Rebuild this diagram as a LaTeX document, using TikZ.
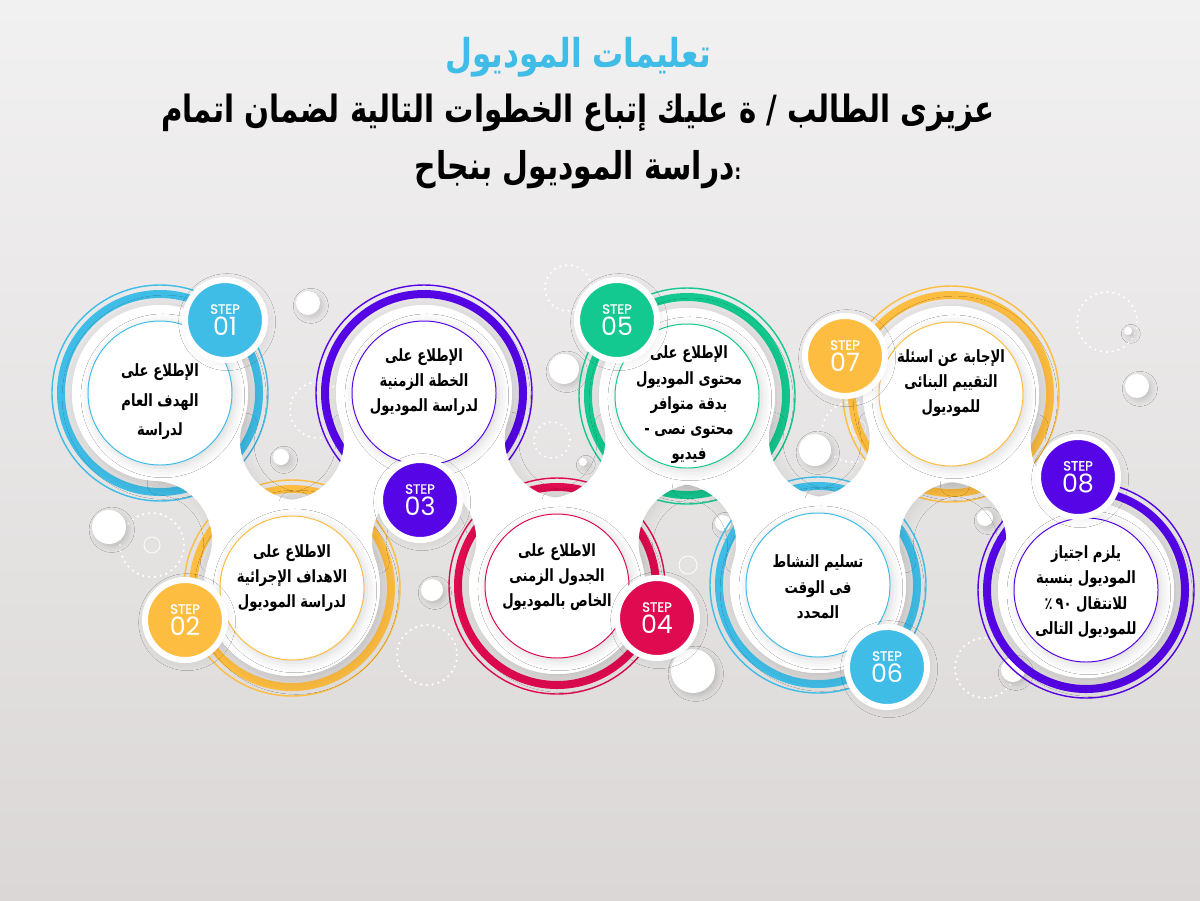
\documentclass[tikz,border=0pt]{standalone}
\usepackage{fontspec}
\usetikzlibrary{calc,shadows.blur}
\TeXXeTstate=1
\newfontfamily\arabicfont[Script=Arabic, FakeStretch=0.78]{DejaVu Sans}
\newfontfamily\stepfont{Poppins}
\newfontfamily\stepbold[FakeBold=1.5]{Poppins}
\newcommand{\ar}[1]{\beginR #1\endR}

\definecolor{stepblue}{HTML}{3FBDE6}
\definecolor{stepyellow}{HTML}{FDBD40}
\definecolor{steppurple}{HTML}{5505E6}
\definecolor{stepred}{HTML}{DF0A4F}
\definecolor{stepgreen}{HTML}{14C98F}
\definecolor{bgtop}{HTML}{F2F1F1}
\definecolor{bgbottom}{HTML}{DBD7D7}

\tikzset{
  ringthick/.style={draw=#1, line width=5.7pt},
  ringthin/.style={draw=#1, line width=1pt},
  bigdisc/.style={fill=white, blur shadow={shadow xshift=3pt, shadow yshift=-3pt, shadow blur radius=10pt, shadow opacity=14}},
  bridgefill/.style={fill=white, blur shadow={shadow xshift=2pt, shadow yshift=-2pt, shadow blur radius=8pt, shadow opacity=8}},
  innerdisc/.style={fill=white, draw=#1, line width=0.7pt, blur shadow={shadow xshift=2pt, shadow yshift=-2pt, shadow blur radius=7pt, shadow opacity=16}},
  stepbadge/.style={circle, fill=#1, draw=white, line width=4.3pt, minimum size=2cm, inner sep=0pt, text=white, align=center,
    font=\stepfont\fontsize{18}{15.6}\selectfont, blur shadow={shadow xshift=1.5pt, shadow yshift=-1.5pt, shadow blur radius=6pt, shadow opacity=10}},
  steptext/.style={align=center, font=\arabicfont\bfseries\fontsize{12}{18}\selectfont},
  whitedot/.style={fill=white, blur shadow={shadow xshift=2pt, shadow yshift=-2pt, shadow blur radius=4pt, shadow opacity=16}},
  dotring/.style={draw=white, line width=1.7pt, dash pattern=on 0pt off 4.2pt, line cap=round},
  faintring/.style={draw=white, line width=0.7pt, opacity=0.8}
}

\newcommand{\bridge}[2]{%
  \fill[bridgefill] let \p1=($(#2)-(#1)$), \n1={veclen(\x1,\y1)}, \n2={atan2(\y1,\x1)}, \n3={acos(\n1/2/104.69)} in
    ($(#1)+(\n2+\n3:2.2cm)$) arc[start angle=\n2+180+\n3, end angle=\n2+360-\n3, radius=1.48cm]
    -- ($(#2)+(\n2+180+\n3:2.2cm)$) arc[start angle=\n2+\n3, end angle=\n2+180-\n3, radius=1.48cm] -- cycle;}
\newcommand{\steplabel}[1]{{\stepbold\fontsize{9.5}{10}\selectfont STEP}\\#1}

\begin{document}
\begin{tikzpicture}[x=0.025cm, y=-0.025cm]
\useasboundingbox (0,0) rectangle (1200,900);
\shade[top color=bgtop, bottom color=bgbottom] (0,0) rectangle (1200,900);

\coordinate (c1) at (160,393);
\coordinate (c2) at (292,588);
\coordinate (c3) at (424,393);
\coordinate (c4) at (557,586);
\coordinate (c5) at (687,396);
\coordinate (c6) at (818,585);
\coordinate (c7) at (951,394);
\coordinate (c8) at (1086,590);

\draw[dotring] (152,545) circle (32);
\draw[faintring] (152,545) circle (8);
\draw[dotring] (568,288) circle (23);
\draw[dotring] (552,440) circle (18);
\draw[dotring] (427,655) circle (30);
\draw[dotring] (318,410) circle (28);
\draw[dotring] (1107,322) circle (30);
\draw[dotring] (852,432) circle (30);
\draw[faintring] (858,428) circle (8);
\draw[dotring] (985,668) circle (30);
\draw[faintring] (688,565) circle (9);

\fill[whitedot] (308,303) circle (12);
\fill[whitedot] (109,527) circle (17);
\fill[whitedot] (281,457) circle (8);
\fill[whitedot] (432,590) circle (11);
\fill[whitedot] (564,369) circle (15);
\fill[whitedot] (583,462) circle (4);
\fill[whitedot] (693,671) circle (22);
\fill[whitedot] (815,450) circle (16);
\fill[whitedot] (985,518) circle (8);
\fill[whitedot] (723,523) circle (8);
\fill[whitedot] (1137,386) circle (12);
\fill[whitedot] (1128,331) circle (4);
\fill[whitedot] (1013,670) circle (12);

\draw[ringthick=stepblue] (c1) circle (99);
\draw[ringthin=stepblue] (c1) circle (108);
\draw[ringthick=stepyellow] (c2) circle (99);
\draw[ringthin=stepyellow] (c2) circle (108);
\draw[ringthick=steppurple] (c3) circle (99);
\draw[ringthin=steppurple] (c3) circle (108);
\draw[ringthick=stepred] (c4) circle (99);
\draw[ringthin=stepred] (c4) circle (108);
\draw[ringthick=stepgreen] (c5) circle (99);
\draw[ringthin=stepgreen] (c5) circle (108);
\draw[ringthick=stepblue] (c6) circle (99);
\draw[ringthin=stepblue] (c6) circle (108);
\draw[ringthick=stepyellow] (c7) circle (99);
\draw[ringthin=stepyellow] (c7) circle (108);
\draw[ringthick=steppurple] (c8) circle (99);
\draw[ringthin=steppurple] (c8) circle (108);

\fill[bigdisc] (c1) circle (88);
\fill[bigdisc] (c2) circle (88);
\fill[bigdisc] (c3) circle (88);
\fill[bigdisc] (c4) circle (88);
\fill[bigdisc] (c5) circle (88);
\fill[bigdisc] (c6) circle (88);
\fill[bigdisc] (c7) circle (88);
\fill[bigdisc] (c8) circle (88);

\bridge{c1}{c2}
\bridge{c2}{c3}
\bridge{c3}{c4}
\bridge{c4}{c5}
\bridge{c5}{c6}
\bridge{c6}{c7}
\bridge{c7}{c8}

\fill[white] (c1) circle (88) (c2) circle (88) (c3) circle (88) (c4) circle (88)
  (c5) circle (88) (c6) circle (88) (c7) circle (88) (c8) circle (88);

\draw[innerdisc=stepblue] (c1) circle (72);
\draw[innerdisc=stepyellow] (c2) circle (72);
\draw[innerdisc=steppurple] (c3) circle (72);
\draw[innerdisc=stepred] (c4) circle (72);
\draw[innerdisc=stepgreen] (c5) circle (72);
\draw[innerdisc=stepblue] (c6) circle (72);
\draw[innerdisc=stepyellow] (c7) circle (72);
\draw[innerdisc=steppurple] (c8) circle (72);

\node[stepbadge=stepblue] (b1) at (225,320) {\steplabel{01}};
\node[stepbadge=stepyellow] (b2) at (185,620) {\steplabel{02}};
\node[stepbadge=steppurple] (b3) at (420,500) {\steplabel{03}};
\node[stepbadge=stepred] (b4) at (657,618) {\steplabel{04}};
\node[stepbadge=stepgreen] (b5) at (617,320) {\steplabel{05}};
\node[stepbadge=stepblue] (b6) at (887,667) {\steplabel{06}};
\node[stepbadge=stepyellow] (b7) at (845,356) {\steplabel{07}};
\node[stepbadge=steppurple] (b8) at (1078,477) {\steplabel{08}};

\node[steptext, font=\arabicfont\bfseries\fontsize{12}{21}\selectfont] (t1) at (160,402) {\ar{الإطلاع على}\\\ar{الهدف العام}\\\ar{لدراسة}};
\node[steptext] (t2) at (292,578) {\ar{الاطلاع على}\\\ar{الاهداف الإجرائية}\\\ar{لدراسة الموديول}};
\node[steptext] (t3) at (424,382) {\ar{الإطلاع على}\\\ar{الخطة الزمنية}\\\ar{لدراسة الموديول}};
\node[steptext] (t4) at (557,577) {\ar{الاطلاع على}\\\ar{الجدول الزمنى}\\\ar{الخاص بالموديول}};
\node[steptext] (t5) at (689,405) {\ar{الإطلاع على}\\\ar{محتوى الموديول}\\\ar{بدقة متوافر}\\\ar{محتوى نصى -}\\\ar{فيديو}};
\node[steptext] (t6) at (818,587) {\ar{تسليم النشاط}\\\ar{فى الوقت}\\\ar{المحدد}};
\node[steptext] (t7) at (951,383) {\ar{الإجابة عن اسئلة}\\\ar{التقييم البنائى}\\\ar{للموديول}};
\node[steptext] (t8) at (1086,592) {\ar{يلزم اجتياز}\\\ar{الموديول بنسبة}\\\hbox{٪}\,\hbox{٩٠} \ar{للانتقال}\\\ar{للموديول التالى}};

\node[text=stepblue, font=\arabicfont\bfseries\fontsize{28.3}{32}\selectfont] (title) at (578,57) {\ar{تعليمات الموديول}};
\node[font=\arabicfont\bfseries\fontsize{26.7}{30}\selectfont] (intro) at (578,113) {\ar{عزيزى الطالب / ة عليك إتباع الخطوات التالية لضمان اتمام}};
\node[font=\arabicfont\bfseries\fontsize{27.2}{30}\selectfont] (intro2) at (578,170) {\ar{دراسة الموديول بنجاح}{\fontsize{15}{15}\selectfont :}};
\end{tikzpicture}
\end{document}
